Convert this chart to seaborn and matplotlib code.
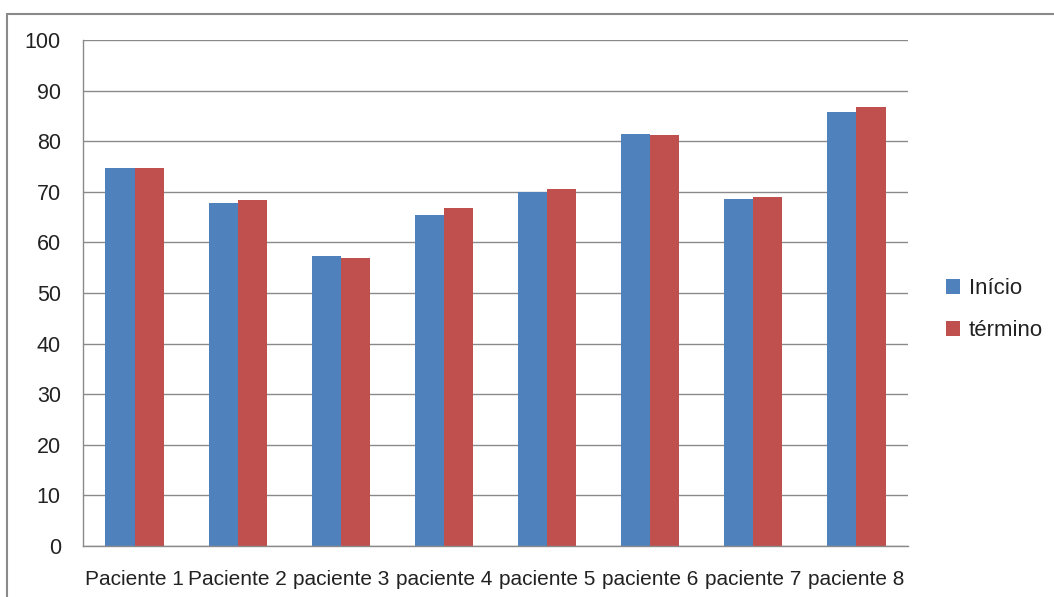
import numpy as np
import pandas as pd
import seaborn as sns
import matplotlib
matplotlib.use("Agg")
import matplotlib.pyplot as plt
from matplotlib.patches import Rectangle

categories = ["Paciente 1", "Paciente 2", "paciente 3", "paciente 4",
              "paciente 5", "paciente 6", "paciente 7", "paciente 8"]
inicio = [74.7, 67.7, 57.4, 65.5, 69.9, 81.4, 68.6, 85.8]
termino = [74.7, 68.4, 57.0, 66.8, 70.6, 81.2, 69.0, 86.8]
series_names = ["Início", "término"]
yticks = [0, 10, 20, 30, 40, 50, 60, 70, 80, 90, 100]

df = pd.DataFrame({
    "cat": categories * 2,
    "val": inicio + termino,
    "serie": [series_names[0]] * len(categories) + [series_names[1]] * len(categories),
})

sns.set_style("white")
plt.rcParams["font.family"] = ["Liberation Sans", "DejaVu Sans"]

fig = plt.figure(figsize=(10.54, 5.97), dpi=100)
ax = fig.add_axes([83/1054, 1-546/597, 825/1054, 506/597])

sns.barplot(data=df, x="cat", y="val", hue="serie", order=categories,
            hue_order=series_names, palette=["#4F81BD", "#C0504D"],
            width=0.565, ax=ax, legend=True, saturation=1, edgecolor="none")

ax.set_ylim(0, 100)
ax.set_xlim(-0.5, len(categories) - 0.5)
ax.set_yticks(yticks)
ax.set_yticklabels([str(t) for t in yticks], fontsize=15.5, color="#222222")
ax.set_xlabel("")
ax.set_ylabel("")
ax.yaxis.grid(True, color="#8a8a8a", linewidth=1)
ax.set_axisbelow(True)
for s in ["top", "right"]:
    ax.spines[s].set_visible(False)
for s in ["left", "bottom"]:
    ax.spines[s].set_color("#8a8a8a")
    ax.spines[s].set_linewidth(1)

ax.tick_params(axis="y", which="major", length=6, color="#8a8a8a", direction="out", pad=10)
ax.tick_params(axis="x", which="major", length=0, labelsize=15, pad=17, labelcolor="#222222")
ax.set_xticks(np.arange(-0.5, len(categories)), minor=True)
ax.tick_params(axis="x", which="minor", length=5, color="#8a8a8a", direction="out")

leg = ax.legend(loc="center left", bbox_to_anchor=(1.046, 0.467), frameon=False,
                fontsize=16, handlelength=0.63, handleheight=0.63, handletextpad=0.4,
                labelspacing=0.95, borderpad=0, borderaxespad=0)
for t in leg.get_texts():
    t.set_color("#222222")

fig.add_artist(Rectangle((7/1054, -0.1), 1.2, 1.1 - 14/597, transform=fig.transFigure,
                         fill=False, edgecolor="#8a8a8a", linewidth=1.5))

fig.savefig("out.png", dpi=100)
